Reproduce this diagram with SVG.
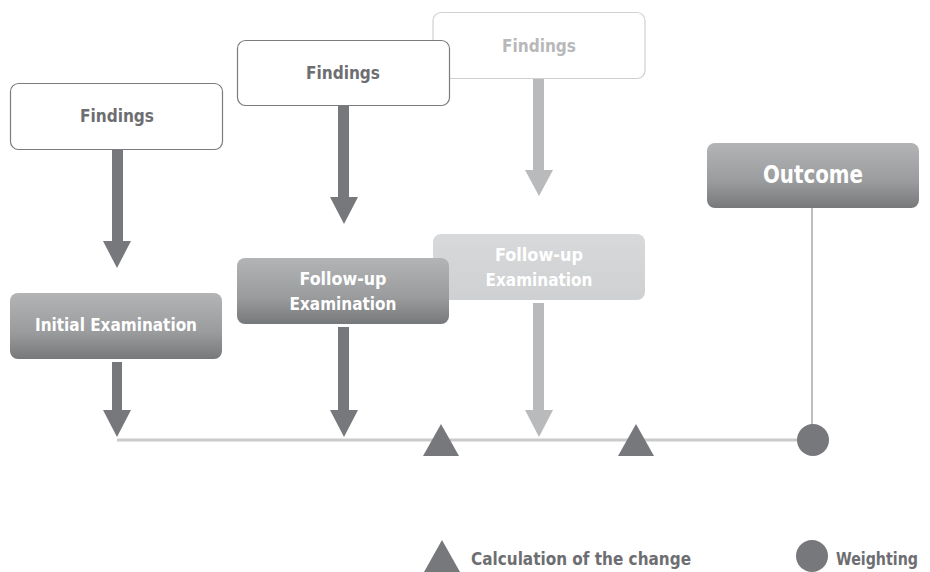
<svg xmlns="http://www.w3.org/2000/svg" width="930" height="572" viewBox="0 0 930 572">
<defs>
<linearGradient id="gDark" x1="0" y1="0" x2="0" y2="1">
<stop offset="0" stop-color="#b3b4b6"/>
<stop offset="0.6" stop-color="#9a9b9d"/>
<stop offset="1" stop-color="#77787a"/>
</linearGradient>
<linearGradient id="gLight" x1="0" y1="0" x2="0" y2="1">
<stop offset="0" stop-color="#d8d9da"/>
<stop offset="1" stop-color="#cfd0d1"/>
</linearGradient>
</defs>
<style>
text{font-family:"Liberation Sans Narrow","DejaVu Sans Condensed","Liberation Sans",Arial,sans-serif;font-weight:bold;text-anchor:middle}
.find{fill:#fff;stroke:#7b7c7e;stroke-width:1.2}
.findL{fill:#fff;stroke:#cfd0d1;stroke-width:1.2}
.tDark{fill:#6d6e71;font-size:18px}
.tLight{fill:#b7b8ba;font-size:18px}
.tWhite{fill:#fff;font-size:18px}
.dark{fill:#77787b}
.light{fill:#b9babc}
.leg{fill:#6d6e71;font-size:18px;text-anchor:start}
</style>
<g id="connectors">
<line x1="117" y1="440" x2="813" y2="440" stroke="#c9cacb" stroke-width="3"/>
<line x1="812" y1="208" x2="812" y2="430" stroke="#bdbebf" stroke-width="2"/>
<path class="dark" d="M112,149h11v92h8l-14,27l-14,-27h9z"/>
<path class="dark" d="M112,362h10v48h9l-14,27l-14,-27h9z"/>
<path class="dark" d="M338,105h11v92h9l-14,27l-14,-27h8z"/>
<path class="dark" d="M338,327h11v83h9l-14,27l-14,-27h8z"/>
<path class="light" d="M533,79h11v91h9l-14,26l-14,-26h8z"/>
<path class="light" d="M533,303h11v107h9l-14,27l-14,-27h8z"/>
</g>
<g id="markers">
<polygon class="dark" points="441,424 459,456 423,456"/>
<polygon class="dark" points="636,424 654,456 618,456"/>
<circle class="dark" cx="813" cy="440" r="16"/>
</g>
<g id="findings3">
<rect class="findL" x="433" y="12.5" width="212" height="66" rx="8"/>
<text class="tLight" x="539" y="52" textLength="74" lengthAdjust="spacingAndGlyphs">Findings</text>
</g>
<g id="findings2">
<rect class="find" x="237.5" y="40.5" width="212" height="65" rx="8"/>
<text class="tDark" x="343" y="79" textLength="74" lengthAdjust="spacingAndGlyphs">Findings</text>
</g>
<g id="findings1">
<rect class="find" x="10.5" y="83.5" width="212" height="66" rx="8"/>
<text class="tDark" x="117" y="122" textLength="74" lengthAdjust="spacingAndGlyphs">Findings</text>
</g>
<g id="followup2">
<rect fill="url(#gLight)" x="433" y="234" width="212" height="66" rx="8"/>
<text class="tWhite" x="539" y="261" textLength="88" lengthAdjust="spacingAndGlyphs">Follow-up</text>
<text class="tWhite" x="539" y="286" textLength="107" lengthAdjust="spacingAndGlyphs">Examination</text>
</g>
<g id="followup1">
<rect fill="url(#gDark)" x="237" y="258" width="212" height="66" rx="8"/>
<text class="tWhite" x="343" y="285" textLength="87" lengthAdjust="spacingAndGlyphs">Follow-up</text>
<text class="tWhite" x="343" y="310" textLength="107" lengthAdjust="spacingAndGlyphs">Examination</text>
</g>
<g id="initial">
<rect fill="url(#gDark)" x="10" y="293" width="212" height="66" rx="8"/>
<text class="tWhite" x="116" y="331" textLength="162" lengthAdjust="spacingAndGlyphs">Initial Examination</text>
</g>
<g id="outcome">
<rect fill="url(#gDark)" x="707" y="143" width="212" height="65" rx="8"/>
<text class="tWhite" x="813" y="183" style="font-size:24px" textLength="100" lengthAdjust="spacingAndGlyphs">Outcome</text>
</g>
<g id="legend">
<polygon class="dark" points="442,540 460,572 424,572"/>
<text class="leg" x="471" y="565" textLength="220" lengthAdjust="spacingAndGlyphs">Calculation of the change</text>
<circle class="dark" cx="812" cy="556" r="16"/>
<text class="leg" x="836" y="565" textLength="82" lengthAdjust="spacingAndGlyphs">Weighting</text>
</g>
</svg>
